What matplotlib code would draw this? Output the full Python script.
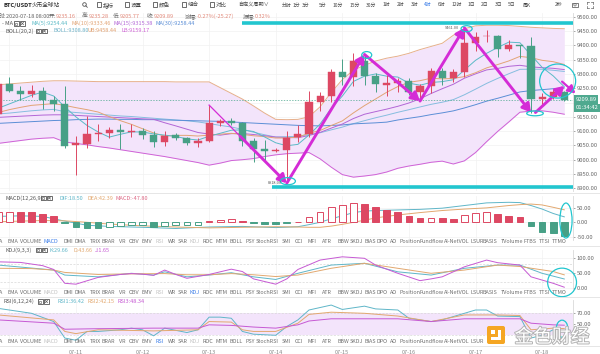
import matplotlib
matplotlib.use("Agg")
import matplotlib.pyplot as plt
import matplotlib.patheffects as pe
from matplotlib.patches import Ellipse, Rectangle, FancyBboxPatch, FancyArrowPatch, Circle
from matplotlib.transforms import blended_transform_factory

plt.rcParams['font.family'] = ['Noto Sans CJK SC', 'DejaVu Sans']

# ---------------- data (4h candles, BTC/USDT) ----------------
opens = [9160, 9264, 9240, 9231, 9239, 9209, 9195, 9050, 9056, 9089,
         9092, 9105, 9098, 9100, 9086, 9061, 9085, 9075, 9059, 9066,
         9129, 9137, 9128, 9065, 9037, 9032, 9034, 9079, 9089, 9201,
         9224, 9307, 9288, 9345, 9294, 9262, 9268, 9275, 9238, 9258,
         9310, 9284, 9308, 9409, 9431, 9433, 9386, 9399, 9399, 9211,
         9218, 9236]
highs = [9270, 9290, 9258, 9261, 9253, 9224, 9258, 9084, 9154, 9124,
         9114, 9125, 9124, 9112, 9100, 9100, 9092, 9080, 9077, 9191,
         9142, 9145, 9133, 9075, 9069, 9040, 9100, 9121, 9240, 9235,
         9317, 9351, 9372, 9368, 9302, 9296, 9287, 9285, 9264, 9322,
         9322, 9318, 9461, 9445, 9455, 9437, 9420, 9400, 9430, 9232,
         9248, 9240]
lows = [9150, 9238, 9209, 9220, 9176, 9170, 9040, 8946, 9040, 9067,
        9077, 9036, 9078, 9072, 9046, 9049, 9069, 9051, 9045, 9063,
        9119, 9121, 9047, 8993, 8999, 9028, 8918, 9063, 9080, 9172,
        9203, 9262, 9258, 9261, 9238, 9223, 9238, 9226, 9205, 9232,
        9261, 9270, 9290, 9380, 9410, 9360, 9380, 9355, 9165, 9190,
        9212, 9205]
closes = [9264, 9240, 9231, 9239, 9208, 9195, 9049, 9058, 9089, 9094,
          9105, 9098, 9101, 9086, 9061, 9084, 9075, 9058, 9066, 9127,
          9136, 9128, 9065, 9037, 9032, 9034, 9076, 9089, 9201, 9224,
          9308, 9290, 9345, 9293, 9263, 9269, 9275, 9238, 9258, 9310,
          9284, 9308, 9407, 9428, 9433, 9386, 9401, 9397, 9213, 9218,
          9236, 9209.89]

ma5 = [9180, 9195, 9210, 9225, 9236.4, 9222.6, 9184.4, 9149.8, 9119.8, 9097,
       9079, 9088.8, 9097.4, 9096.8, 9090.2, 9086, 9081.4, 9072.8, 9068.8, 9082,
       9092.4, 9103, 9104.4, 9098.6, 9079.6, 9059.2, 9048.8, 9053.6, 9086.4, 9124.8,
       9179.6, 9222.4, 9273.6, 9292, 9299.8, 9292, 9289, 9267.6, 9260.6, 9270,
       9273, 9279.6, 9313.4, 9347.4, 9372, 9392.4, 9411, 9409, 9366, 9323,
       9293, 9254.8]
ma10 = [9165, 9175, 9183, 9190, 9193, 9196, 9190, 9182, 9175, 9166.7,
        9150.8, 9136.6, 9123.6, 9108.3, 9093.6, 9082.5, 9085.1, 9085.1, 9082.8, 9086.1,
        9089.2, 9092.2, 9088.6, 9083.7, 9080.8, 9075.8, 9075.9, 9079, 9092.5, 9102.2,
        9119.4, 9135.6, 9163.6, 9189.2, 9212.3, 9235.8, 9255.7, 9270.6, 9276.3, 9284.9,
        9282.5, 9284.3, 9290.5, 9304, 9321, 9332.7, 9345.3, 9361.2, 9356.7, 9347.5,
        9342.7, 9332.9]
ma15 = [9148, 9150, 9152, 9154, 9156, 9157, 9157, 9155, 9153, 9151,
        9149, 9147, 9145, 9143, 9141.2, 9129.2, 9118.2, 9106.7, 9095.1, 9089.7,
        9085.8, 9091.1, 9091.5, 9088.1, 9083.9, 9079.2, 9077.7, 9076.9, 9084.6, 9095.5,
        9110.4, 9124.7, 9143.9, 9159, 9168.1, 9176.9, 9186.7, 9198.3, 9213, 9231.5,
        9248.2, 9263.7, 9284.9, 9300, 9313.9, 9319.1, 9326.5, 9330, 9324.7, 9321.7,
        9319.5, 9315.1]
ma30 = [9127, 9129, 9131, 9133, 9135, 9137, 9138, 9140, 9141, 9142,
        9142, 9141, 9141, 9140, 9140, 9139, 9138, 9137, 9136, 9135,
        9134, 9132, 9130, 9128, 9126, 9124, 9122, 9120, 9119, 9118.3,
        9119.8, 9121.5, 9125.3, 9127.1, 9128.9, 9131.4, 9138.9, 9144.9, 9150.5, 9157.7,
        9163.7, 9170.7, 9180.9, 9192.3, 9204.7, 9214.8, 9225.6, 9236.9, 9241.8, 9244.9,
        9248.2, 9250.9]
boll_mid = [9160, 9163, 9167, 9171, 9174, 9176, 9168, 9165, 9162, 9159,
            9156, 9153, 9151, 9148, 9145, 9142, 9139, 9136, 9132, 9126.4,
            9120, 9114.4, 9106.1, 9096, 9087.2, 9079.2, 9080.5, 9082, 9087.7, 9094.2,
            9104.3, 9113.9, 9126.1, 9136.5, 9146.6, 9155.8, 9165.8, 9174.8, 9184.4, 9193.6,
            9201, 9210, 9227, 9246.6, 9266.7, 9284.3, 9300.5, 9315.9, 9316.5, 9316.2,
            9312.6, 9308.6]
boll_ub = [9262, 9265, 9268, 9271, 9274, 9276, 9276, 9275, 9274, 9273,
           9273, 9273, 9273, 9273, 9273, 9273, 9272, 9272, 9272, 9272,
           9252, 9232, 9212, 9188, 9163, 9141, 9140, 9141, 9150, 9185,
           9235, 9280, 9313, 9330, 9345, 9355, 9362, 9372, 9385, 9396,
           9407, 9435, 9458, 9468, 9470, 9470, 9469, 9466, 9463, 9461,
           9459, 9458]
boll_lb = [9057, 9062, 9067, 9072, 9075, 9077, 9062, 9057, 9052, 9046,
           9041, 9035, 9029, 9023, 9017, 9011, 9004, 8997, 8990, 8981,
           8988, 8997, 9000, 9004, 9011, 9017, 9021, 9023, 9025, 9003,
           8974, 8948, 8939, 8943, 8948, 8957, 8970, 8978, 8984, 8991,
           8995, 8985, 8996, 9025, 9063, 9099, 9132, 9166, 9170, 9171,
           9166, 9159]

macd_hist = [35, 36, 36, 34, 28, 22, -2, -15, -20, -20,
             -15, -11, -10.8, -10.6, -17, -11, -10, -9.8, -9.6, 6,
             9, 10, 5, -2, -5, -6, -2, 2, 19, 34,
             51, 58, 65, 62, 51, 42, 34, 22, 14, 16,
             14, 10, 24, 33, 35, 27, 22, 17, -11, -32,
             -37, -46]
dif_idx = [0, 2, 4, 6, 8, 10, 13, 16, 19, 22, 25, 27, 28, 29, 30, 31, 32, 33, 34, 36,
           38, 40, 42, 44, 45, 46, 47, 48, 49, 50, 51]
dif_val = [20, 22, 20, 4, -10, -14, -17, -21, -16, -14, -18, -15, -8, 0, 12, 22, 33, 38, 40, 42,
           44, 48, 57, 66, 67, 68, 67, 57, 45, 30, 18.5]
dea_val = [2, 4, 6, 5, 0, -6, -12, -16, -19, -17, -15, -16, -17, -17, -13, -7, 0, 7, 15, 25,
           33, 40, 45, 49, 53, 57, 60, 62, 59, 51, 42.4]

k_idx = [0, 5, 6, 9, 12, 14, 15, 17, 19, 21, 23, 25, 27, 30, 33, 36, 39, 42, 45, 47, 49, 51]
k_val = [77, 60, 43, 37, 49, 43, 54, 37, 43, 51, 37, 28, 49, 77, 83, 54, 43, 66, 77, 77, 49, 29.66]
d_idx = [0, 3, 5, 6, 9, 12, 15, 17, 19, 21, 23, 25, 27, 30, 33, 36, 39, 42, 45, 47, 50, 51]
d_val = [66, 65, 60, 52, 45, 47, 48, 44, 44, 48, 44, 38, 43, 66, 83, 66, 49, 60, 77, 72, 55, 43.66]
j_idx = [0, 2, 4, 5, 6, 7, 9, 11, 12, 13, 14, 15, 16, 17, 19, 21, 22, 23, 25, 26,
         27, 29, 31, 33, 34, 36, 38, 39, 40, 42, 44, 45, 47, 48, 50, 51]
j_val = [88, 86, 75, 62, 15, 12, 35, 45, 48, 46, 42, 60, 45, 32, 45, 63, 55, 30, 12, 30,
         62, 94, 105, 100, 77, 49, 24, 30, 37, 71, 94, 85, 77, 37, 15, 1.65]

rsi1_idx = [0, 3, 5, 6, 7, 8, 9, 11, 12, 13, 14, 15, 17, 18, 19, 20, 21, 22, 23, 25,
            26, 27, 28, 30, 31, 33, 34, 36, 37, 39, 40, 41, 43, 44, 45, 47, 48, 49, 50, 51]
rsi1_val = [79, 70, 55, 25, 21, 37, 37, 40, 43, 40, 29, 43, 35, 40, 63, 63, 61, 37, 32, 30,
            46, 58, 76, 85, 77, 83, 78, 76, 61, 55, 58, 64, 76, 76, 65, 64, 25, 30, 40, 36.42]
rsi2_idx = [0, 5, 6, 7, 9, 14, 18, 19, 21, 22, 23, 25, 27, 28, 30, 33, 36, 39, 42, 45, 47, 48, 50, 51]
rsi2_val = [67, 58, 37, 33, 40, 38, 40, 55, 54, 40, 37, 37, 52, 68, 72, 70, 65, 55, 67, 67, 66, 40, 43, 42.15]
rsi3_idx = [0, 5, 6, 9, 14, 18, 19, 21, 23, 25, 27, 28, 30, 33, 36, 39, 42, 45, 47, 48, 50, 51]
rsi3_val = [58, 52, 41, 42, 43, 43, 49, 48, 45, 43, 49, 56, 60, 60, 60, 55, 60, 60, 60, 52, 49, 48.34]

date_labels = ["07-11", "07-12", "07-13", "07-14", "07-15", "07-16", "07-17", "07-18"]
tabs = ["MA", "EMA", "VOLUME", "MACD", "DMI", "DMA", "TRIX", "BRAR", "VR", "OBV", "EMV", "RSI",
        "WR", "SAR", "KDJ", "ROC", "MTM", "BOLL", "PSY", "StochRSI", "SMI", "CCI", "MFI", "ATR",
        "BBW", "SKDJ", "BIAS", "DPO", "AO", "Position", "Fundflow", "AI-NetVOL", "LSUR", "BASIS",
        "TVolume", "FTBS", "TTSI", "TTMO"]
periods = ["分时", "1分", "3分", "5分", "10分", "15分", "30分", "1时", "2时", "3时", "4时", "6时",
           "12时", "1日", "2日", "3日", "5日", "周K"]

# annotation anchors (candle index, and levels)
pivots = [19, 26, 33, 38, 42, 48]
pivot_kind = ['H', 'L', 'H', 'L', 'H', 'L']
resist_level, resist_from = 9477, 22
support_level, support_from = 8906, 24.7

# ---------------- layout ----------------
UP, DOWN = '#dd4863', '#47a086'
CYAN, MAG = '#22c6cf', '#d42cd6'
W, H = 600, 354
RIGHT = 573
X0, STEP = -1.8, 11.1

fig = plt.figure(figsize=(W / 100, H / 100), dpi=100)
fig.patch.set_facecolor('white')


def px_axes(x0, y0, x1, y1):
    return fig.add_axes([x0 / W, 1 - y1 / H, (x1 - x0) / W, (y1 - y0) / H])


n = len(closes)
idx = list(range(n))
XLIM = ((0 - X0) / STEP, (RIGHT - X0) / STEP)
grid_idx = list(range(1, n, 6))


def style(a, ylim, ticks, hide_near=None):
    a.set_xlim(*XLIM)
    a.set_ylim(*ylim)
    a.set_facecolor('white')
    for s in ['top', 'left', 'bottom']:
        a.spines[s].set_visible(False)
    a.spines['right'].set_color('#d9d9d9')
    a.spines['right'].set_linewidth(0.6)
    a.yaxis.tick_right()
    a.set_yticks(ticks)
    a.set_yticklabels(['' if (hide_near is not None and abs(v - hide_near) < 30) else f"{v:.2f}"
                       for v in ticks])
    a.tick_params(axis='y', labelsize=4.2, colors='#666666', length=1.5, width=0.4, pad=1)
    a.set_xticks([])
    for g in grid_idx:
        a.axvline(g, color='#f1f1f1', lw=0.5, zorder=0)
    for v in ticks:
        a.axhline(v, color='#f1f1f1', lw=0.5, zorder=0)


# ---------------- main price panel ----------------
ax = px_axes(0, 13, RIGHT, 191)
style(ax, (8890.6, 9512.9), list(range(8900, 9501, 50)), hide_near=closes[-1])
ax.fill_between(idx, boll_lb, boll_ub, color='#f3e4fb', lw=0, zorder=1)
for series, col in [(boll_ub, '#e6b08c'), (boll_lb, '#cf62d6'), (boll_mid, '#86bddf'),
                    (ma30, '#5b8ed6'), (ma15, '#b266d6'), (ma10, '#e2a475'), (ma5, '#5bbac6')]:
    ax.plot(idx, series, color=col, lw=0.7, zorder=2)
ax.axhline(closes[-1], color='#4fa98f', lw=0.5, ls=(0, (2, 2)), zorder=2)

for i in idx:
    o, h, l, c = opens[i], highs[i], lows[i], closes[i]
    col = UP if c >= o else DOWN
    ax.vlines(i, l, h, color=col, lw=0.7, zorder=3)
    ax.add_patch(Rectangle((i - 0.32, min(o, c)), 0.64, max(abs(c - o), 2.5),
                           fc=col, ec=col, lw=0.3, zorder=4))

ax.hlines(resist_level, resist_from, XLIM[1], color=CYAN, lw=2.6, zorder=6)
ax.hlines(support_level, support_from, XLIM[1], color=CYAN, lw=2.6, zorder=6)

pts = [(p, highs[p] if k == 'H' else lows[p]) for p, k in zip(pivots, pivot_kind)]


def arrow(a, b, lw=2.1, ms=9):
    ax.add_patch(FancyArrowPatch(a, b, arrowstyle='-|>,head_length=0.55,head_width=0.32',
                                 mutation_scale=ms, lw=lw, color=MAG, shrinkA=0, shrinkB=0,
                                 zorder=7, clip_on=False))


a0, b0 = pts[0], pts[1]
mid = (a0[0] + (b0[0] - a0[0]) * 0.4, a0[1] + (b0[1] - a0[1]) * 0.4)
ax.plot([a0[0], mid[0]], [a0[1], mid[1]], color=MAG, lw=0.9, zorder=7)
arrow(mid, b0)
for a, b in zip(pts[1:-1], pts[2:]):
    arrow(a, b)
arrow((pts[-1][0] + 0.4, pts[-1][1]), (51.0, 9258))
arrow((50.8, 9273), (52.0, 9232), lw=1.6, ms=8)

for (cx, cy, w, h) in [(26.1, lows[26] + 7, 1.35, 25), (33.2, highs[33] - 2, 0.9, 24),
                       (42.2, highs[42] - 3, 1.0, 21), (48.36, lows[48] - 3, 1.5, 17),
                       (50.4, 9275, 3.24, 119)]:
    ax.add_patch(Ellipse((cx, cy), w, h, fill=False, ec=CYAN, lw=0.9, zorder=8, clip_on=False))

ax.text(25.6, lows[26], f"{lows[26]:.2f}", fontsize=2.8, color='#555', ha='right', va='center', zorder=8)
ax.text(41.5, highs[42], f"{highs[42]:.2f}", fontsize=2.8, color='#555', ha='right', va='center', zorder=8)

trans = blended_transform_factory(ax.transAxes, ax.transData)
ax.text(1.004, closes[-1], f"{closes[-1]:.2f}", transform=trans, fontsize=4.2, color='white',
        ha='left', va='center', zorder=30, clip_on=False,
        bbox=dict(boxstyle='square,pad=0.3', fc='#4fa98f', ec='none'))
ax.annotate("01:34:42", (1.004, closes[-1]), xycoords=trans, xytext=(0, -5.9),
            textcoords='offset points', fontsize=4.2, color='white', ha='left', va='center',
            zorder=30, annotation_clip=False,
            bbox=dict(boxstyle='square,pad=0.3', fc='#4fa98f', ec='none'))

# ---------------- MACD panel ----------------
axm = px_axes(0, 196, RIGHT, 240)
style(axm, (-60.2, 89.4), [-50, 0, 50])
for i, v in enumerate(macd_hist):
    col = UP if v >= 0 else DOWN
    hollow = i == 0 or v > macd_hist[i - 1]
    axm.add_patch(Rectangle((i - 0.3, min(0, v)), 0.6, abs(v), fc='white' if hollow else col,
                            ec=col, lw=0.7, zorder=3))
axm.plot(dif_idx, dif_val, color='#5fb6c8', lw=0.7, zorder=2)
axm.plot(dif_idx, dea_val, color='#e2a86f', lw=0.7, zorder=2)
axm.add_patch(Ellipse((51.15, 6), 1.1, 119, fill=False, ec=CYAN, lw=0.9, zorder=8, clip_on=False))

# ---------------- KDJ panel ----------------
axk = px_axes(0, 250, RIGHT, 291)
style(axk, (-11.2, 128.2), [0, 50, 100])
for v in (80, 20):
    axk.axhline(v, color='#d8d8d8', lw=0.5, ls=(0, (3, 2)), zorder=1)
axk.plot(k_idx, k_val, color='#5fb6c8', lw=0.7, zorder=3)
axk.plot(d_idx, d_val, color='#e2a86f', lw=0.7, zorder=3)
axk.plot(j_idx, j_val, color='#c659d3', lw=0.7, zorder=3)
axk.add_patch(Ellipse((50.8, 18), 2.6, 97, fill=False, ec=CYAN, lw=0.9, zorder=8, clip_on=False))

# ---------------- RSI panel ----------------
axr = px_axes(0, 300, RIGHT, 341)
style(axr, (19.6, 94.2), [50, 70])
axr.axhspan(30, 70, color='#f3e4fb', lw=0, zorder=1)
for v in (70, 30):
    axr.axhline(v, color='#d8d8d8', lw=0.5, ls=(0, (3, 2)), zorder=1)
axr.plot(rsi1_idx, rsi1_val, color='#5fb6c8', lw=0.7, zorder=3)
axr.plot(rsi2_idx, rsi2_val, color='#e2a86f', lw=0.7, zorder=3)
axr.plot(rsi3_idx, rsi3_val, color='#c659d3', lw=0.7, zorder=3)
axr.add_patch(Ellipse((50.8, 42), 1.05, 31, fill=False, ec=CYAN, lw=0.9, zorder=8, clip_on=False))

# ---------------- overlay (texts, toolbar) ----------------
ov = fig.add_axes([0, 0, 1, 1], zorder=20)
ov.set_xlim(0, W)
ov.set_ylim(H, 0)
ov.axis('off')


def t(x, y, s, c='#555555', fs=4, **kw):
    kw.setdefault('ha', 'left')
    kw.setdefault('va', 'center')
    ov.text(x, y, s, color=c, fontsize=fs, **kw)


def icons(x, y):
    for k in range(2):
        ov.add_patch(Rectangle((x + k * 6, y - 2.4), 4.8, 4.8, fc='white', ec='#555', lw=0.6))
    ov.add_patch(Rectangle((x + 1.4, y - 1.0), 2.0, 2.0, fc='none', ec='#555', lw=0.4))
    ov.plot([x + 7.3, x + 9.5], [y - 1.1, y + 1.1], color='#555', lw=0.5)
    ov.plot([x + 7.3, x + 9.5], [y + 1.1, y - 1.1], color='#555', lw=0.5)


# toolbar
t(3, 5, "BTC/USDT", '#222', 4.1, fontweight='bold')
t(32, 5, "火币全球站", '#333', 4.1)
ov.add_patch(Circle((84.5, 4.5), 1.8, fill=False, ec='#555', lw=0.6))
ov.plot([85.8, 87.3], [5.8, 7.3], color='#555', lw=0.6)
for x, s in [(97, "指标"), (125, "设置"), (153, "颜色"), (182, "组合"), (210, "对比")]:
    ov.add_patch(Rectangle((x - 0.5, 2.2), 4.6, 4.6, fc='none', ec='#555', lw=0.6))
    t(x + 6, 5, s, '#444', 4)
t(238, 5, "自定义周期∨", '#444', 3.7)
period_x = [282, 293, 302, 319, 333, 350, 366, 383, 397, 411, 424, 438, 452, 468, 481, 495, 508, 523]
for x, s in zip(period_x, periods):
    t(x, 5, s, '#3b7de8' if s == "4时" else '#444', 3.5)
t(555, 5, "2秒", '#444', 3.5)
ov.add_patch(Rectangle((572, 2.5), 6, 4.5, fc='none', ec='#666', lw=0.6))
ov.add_patch(Circle((575, 4.8), 1.2, fill=False, ec='#666', lw=0.5))
for (x0, y0, dx, dy) in [(587, 2, 1, 1), (593, 2, -1, 1), (587, 8, 1, -1), (593, 8, -1, -1)]:
    ov.plot([x0, x0 + 2 * dx], [y0, y0], color='#666', lw=0.5)
    ov.plot([x0, x0], [y0, y0 + 2 * dy], color='#666', lw=0.5)

# header rows
VAL = '#e3897a'
for x, lab, val, dx in [(-1, "时:", "2020-07-18 08:00", 7), (49, "开:", "9235.16", 7),
                        (82, "高:", "9235.28", 7), (113, "低:", "9205.77", 7),
                        (147, "收:", "9209.89", 7), (185, "涨幅:", "-0.27%(-25.27)", 12),
                        (243, "振幅:", "0.32%", 12)]:
    t(x, 16, lab, '#666', 4)
    t(x + dx, 16, val, VAL if lab != "时:" else '#666', 4)

t(2, 23.5, "- MA", '#555', 4)
icons(14, 23.5)
for x, s, c in [(32, "MA(5):9254.44", '#5bbac6'), (72, "MA(10):9333.46", '#e2a475'),
                (113, "MA(15):9315.38", '#b266d6'), (155, "MA(30):9258.44", '#5b8ed6')]:
    t(x, 23.5, s, c, 4)
t(5, 31, "BOLL(20,2)", '#555', 4)
icons(36, 31)
for x, s, c in [(53, "BOLL:9308.80", '#6fb3c9'), (88, "UB:9458.44", '#e0a070'),
                (122, "LB:9159.17", '#cf62d6')]:
    t(x, 31, s, c, 4)

t(5, 198, "MACD(12,26,9)", '#555', 4)
icons(41, 198)
for x, s, c in [(59, "DIF:18.50", '#5fb6c8'), (87, "DEA:42.39", '#e2a86f'),
                (116, "MACD:-47.80", '#dd6a86')]:
    t(x, 198, s, c, 4)
t(5, 250, "KDJ(9,3,3)", '#555', 4)
icons(36, 250)
for x, s, c in [(50, "K:29.66", '#5fb6c8'), (73, "D:43.66", '#e2a86f'), (95, "J:1.65", '#c659d3')]:
    t(x, 250, s, c, 4)
t(3, 301.5, "RSI(6,12,24)", '#555', 4)
icons(38, 301.5)
for x, s, c in [(57, "RSI1:36.42", '#5fb6c8'), (87, "RSI2:42.15", '#e2a86f'),
                (118, "RSI3:48.34", '#c659d3')]:
    t(x, 301.5, s, c, 4)

# separators
for y in [192.5, 245.8, 296.8, 346]:
    ov.plot([0, W], [y, y], color='#e2e2e2', lw=0.6)

# tab rows (the last row's right part is hidden behind the watermark)
tab_x = [1, 13.3, 30.7, 51, 68.3, 80, 95, 108.3, 122.7, 134.3, 147.3, 160, 171.7, 182.7,
         195, 208.3, 221.7, 235.7, 250, 266.7, 286, 299, 311.7, 327, 343, 356.7, 370, 381.7,
         393.3, 410, 431.7, 456.7, 476.7, 490, 511.7, 530, 544.3, 559.3]
active = {"MACD", "KDJ", "RSI"}
for y, sel, xmax in [(241.5, "MACD", 600), (292.5, "KDJ", 600), (341.8, "RSI", 485)]:
    for x, s in zip(tab_x, tabs):
        if x > xmax:
            continue
        label = "A" if s == "MA" else s
        c = '#3b7de8' if s == sel else ('#c4c4c4' if s in active else '#6f6f6f')
        t(x, y, label, c, 3.9, ha='center')

# date labels (cut at bottom edge)
for g, s in zip(grid_idx[1:], date_labels):
    t(X0 + STEP * g, 350.5, s, '#888', 4, ha='center', va='top')

# watermark
ov.add_patch(FancyBboxPatch((487.5, 326.5), 17, 17, boxstyle='round,pad=0.5,rounding_size=2',
                            fc='#f5a623', ec='none'))
ov.add_patch(Rectangle((491, 337), 10, 3.2, fc='white', ec='none'))
ov.add_patch(Rectangle((497.8, 329.5), 3.2, 10.7, fc='white', ec='none'))
ov.add_patch(Rectangle((490.5, 329.5), 4.3, 4.3, fc='white', ec='none'))
ov.text(552, 337, "金色财经", fontsize=13.5, color='white', ha='center', va='center',
        path_effects=[pe.withStroke(linewidth=1.4, foreground='#b3b3b3')])

fig.savefig("out.png", dpi=100, facecolor='white')
